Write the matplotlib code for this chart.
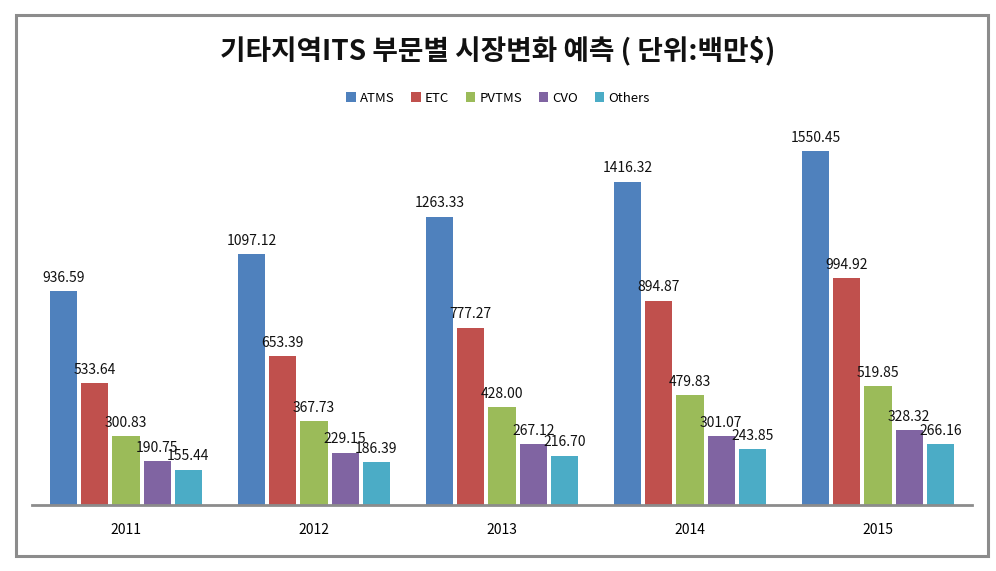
import matplotlib
matplotlib.use("Agg")
import matplotlib.pyplot as plt
import numpy as np
from matplotlib.patches import Rectangle

plt.rcParams['font.family'] = ['Noto Sans CJK KR', 'DejaVu Sans']

years = ['2011', '2012', '2013', '2014', '2015']
series = ['ATMS', 'ETC', 'PVTMS', 'CVO', 'Others']
atms = [936.59, 1097.12, 1263.33, 1416.32, 1550.45]
etc = [533.64, 653.39, 777.27, 894.87, 994.92]
pvtms = [300.83, 367.73, 428.00, 479.83, 519.85]
cvo = [190.75, 229.15, 267.12, 301.07, 328.32]
others = [155.44, 186.39, 216.70, 243.85, 266.16]
colors = ['#4F81BD', '#C0504D', '#9BBB59', '#8064A2', '#4BACC6']
title = '기타지역ITS 부문별 시장변화 예측 ( 단위:백만$)'

W, H = 996, 571
fig = plt.figure(figsize=(W / 100, H / 100), dpi=100)
fig.patch.set_facecolor('white')

# outer frame
fig.patches.append(Rectangle((16 / W, (H - 556) / H), (988 - 16) / W, (556 - 15) / H,
                             transform=fig.transFigure, fill=False,
                             edgecolor='#8C8C8C', linewidth=2.2))

ax = fig.add_axes([32 / W, (H - 505) / H, (972 - 32) / W, (505 - 94) / H])
x = np.arange(len(years))
data = [atms, etc, pvtms, cvo, others]
slot = 0.166
bw = 0.145
for i, (name, vals, c) in enumerate(zip(series, data, colors)):
    pos = x + (i - 2) * slot
    ax.bar(pos, vals, width=bw, color=c, label=name, zorder=2)
    for p, v in zip(pos, vals):
        ax.annotate(f'{v:.2f}', (p, v), xytext=(0, 4.5), textcoords='offset points',
                    ha='center', va='bottom', fontsize=10, color='#111111', zorder=3)

ax.set_xlim(-0.5, 4.5)
ax.set_ylim(0, 1800)
ax.set_yticks([])
ax.set_xticks(x)
ax.set_xticklabels(years, fontsize=10)
ax.tick_params(axis='x', length=0, pad=13)
for s in ['top', 'right', 'left']:
    ax.spines[s].set_visible(False)
ax.spines['bottom'].set_color('#8C8C8C')
ax.spines['bottom'].set_linewidth(2)

fig.text(0.5, (H - 51) / H, title, ha='center', va='center', fontsize=20,
         fontweight='bold', color='#111111')

leg = fig.legend(loc='center', bbox_to_anchor=(0.5, (H - 98) / H), ncol=5,
                 frameon=False, fontsize=9.5, handlelength=0.7, handleheight=0.7,
                 handletextpad=0.3, columnspacing=1.3)
plt.savefig('out.png', dpi=100)
